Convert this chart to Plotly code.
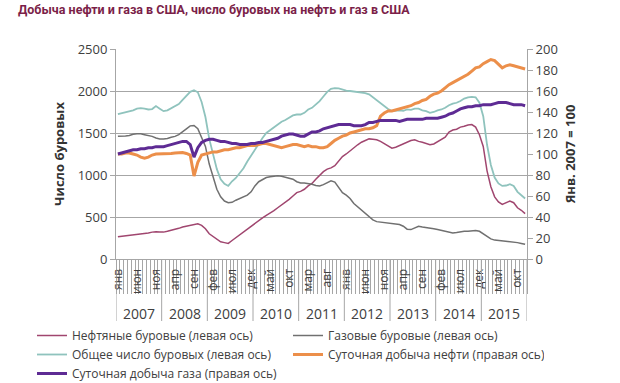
import plotly.graph_objects as go

# ---- data (monthly, Jan 2007 .. Dec 2015) ----
years = [2007, 2008, 2009, 2010, 2011, 2012, 2013, 2014, 2015]
month_names = ["янв", "фев", "мар", "апр", "май", "июн",
               "июл", "авг", "сен", "окт", "ноя", "дек"]
label_step = 5

oil_rigs = [
    265, 270, 275, 280, 285, 295, 300, 305, 310, 320, 325, 320,
    320, 330, 340, 355, 365, 380, 390, 400, 410, 420, 400, 360,
    300, 265, 230, 205, 195, 185, 220, 255, 290, 320, 350, 390,
    430, 460, 490, 520, 545, 575, 610, 640, 670, 710, 750, 790,
    805, 830, 870, 900, 950, 1000, 1040, 1070, 1085, 1110, 1170, 1220,
    1250, 1290, 1330, 1360, 1390, 1410, 1430, 1425, 1420, 1400, 1370, 1340,
    1320, 1330, 1350, 1365, 1385, 1410, 1420, 1400, 1390, 1375, 1360, 1370,
    1400, 1420, 1450, 1510, 1535, 1545, 1570, 1580, 1595, 1600, 1570, 1480,
    1340, 1050, 860, 740, 680, 650, 670, 690, 670, 610, 580, 540]

gas_rigs = [
    1460, 1460, 1465, 1470, 1485, 1490, 1490, 1480, 1470, 1460, 1440, 1430,
    1430, 1435, 1450, 1460, 1480, 1510, 1550, 1585, 1590, 1550, 1450, 1340,
    1130, 980, 830, 740, 690, 670, 675, 700, 720, 740, 760, 800,
    870, 920, 950, 970, 980, 985, 990, 985, 975, 960, 950, 920,
    905, 905, 900, 890, 875, 870, 885, 910, 930, 915, 850, 790,
    760, 720, 660, 620, 580, 540, 500, 465, 445, 440, 430, 430,
    425, 420, 410, 390, 355, 350, 370, 390, 380, 375, 370, 360,
    350, 340, 330, 315, 310, 315, 325, 330, 330, 335, 340, 330,
    300, 270, 240, 225, 220, 215, 215, 210, 205, 195, 185, 175]

total_rigs = [
    1725, 1735, 1745, 1755, 1770, 1790, 1795, 1790, 1780, 1785, 1820, 1790,
    1760, 1770, 1795, 1815, 1845, 1895, 1945, 1990, 2010, 1985, 1870, 1690,
    1430, 1250, 1070, 950, 895, 870, 925, 965, 1020, 1080, 1160, 1230,
    1300, 1380, 1440, 1500, 1535, 1570, 1610, 1635, 1655, 1680, 1710, 1720,
    1720, 1740, 1780, 1800, 1840, 1880, 1935, 1990, 2025, 2035, 2030, 2015,
    2005, 2000, 1995, 1985, 1980, 1975, 1960, 1925, 1890, 1850, 1810, 1785,
    1760, 1765, 1770, 1765, 1780, 1775, 1790, 1790, 1770, 1760, 1740, 1750,
    1770, 1780, 1800, 1830, 1850, 1860, 1880, 1910, 1925, 1930, 1925, 1860,
    1700, 1360, 1120, 970, 900, 870, 875, 890, 870, 800, 760, 720]

oil_prod = [
    100, 100, 101, 101, 100, 99, 97, 96, 97, 99, 100, 100,
    100, 100, 100.5, 101, 101, 101.5, 100.5, 99, 79, 92, 99, 100,
    101, 102, 102, 103, 104, 104, 105, 106, 106, 107, 108, 108,
    108, 109, 110, 110, 109, 108, 107, 106, 107, 108, 109, 109,
    108, 107, 108, 107, 107, 106, 106, 107, 110, 113, 115, 117,
    118, 120, 121, 122, 123, 124, 124, 125, 127, 136, 139, 141,
    141, 142, 143, 144, 145, 146, 148, 149, 151, 152, 155, 157,
    158, 160, 163, 166, 168, 170, 172, 174, 176, 179, 182, 183,
    186, 188, 190, 189, 185, 182, 184, 185, 184, 183, 182, 181]

gas_prod = [
    100, 101, 102, 103, 104, 104, 105, 105, 106, 106, 107, 107,
    107, 108, 109, 110, 111, 112, 112, 109, 97, 106, 111, 113,
    114, 114, 113, 112, 112, 111, 110, 110, 109, 109, 109, 110,
    110, 111, 111, 112, 113, 114, 115, 117, 118, 119, 119, 118,
    117, 117, 119, 121, 121, 122, 124, 125, 126, 127, 128, 128,
    128, 128, 127, 127, 127, 128, 130, 130, 131, 132, 132, 132,
    132, 132, 131, 132, 133, 133, 133, 133, 133, 134, 134, 134,
    134, 135, 136, 138, 139, 141, 143, 144, 145, 145, 146, 146,
    147, 147, 147, 148, 149, 149, 149, 148, 147, 147, 147, 146]

n = len(oil_rigs)
x = list(range(n))

FONT = "Open Sans"
TXT = "#404040"
AX = "#a6a6a6"

fig = go.Figure()
fig.add_trace(go.Scatter(x=x, y=oil_rigs, name="Нефтяные буровые (левая ось)",
                         mode="lines", line=dict(color="#a0466f", width=1.5)))
fig.add_trace(go.Scatter(x=x, y=gas_rigs, name="Газовые буровые (левая ось)",
                         mode="lines", line=dict(color="#707070", width=1.5)))
fig.add_trace(go.Scatter(x=x, y=total_rigs, name="Общее число буровых (левая ось)",
                         mode="lines", line=dict(color="#8fc3bd", width=1.8)))
fig.add_trace(go.Scatter(x=x, y=oil_prod, name="Суточная добыча нефти (правая ось)",
                         mode="lines", line=dict(color="#ec8f4a", width=3), yaxis="y2"))
fig.add_trace(go.Scatter(x=x, y=gas_prod, name="Суточная добыча газа (правая ось)",
                         mode="lines", line=dict(color="#5e2b94", width=3), yaxis="y2"))

tickvals = list(range(0, n, label_step))
ticktext = [month_names[i % 12] for i in tickvals]

shapes = []
annotations = []
for k in range(len(years) + 1):
    shapes.append(dict(type="line", xref="x", yref="paper",
                       x0=12 * k - 0.5, x1=12 * k - 0.5, y0=0, y1=-0.32,
                       line=dict(color=AX, width=1)))
for k, yr in enumerate(years):
    annotations.append(dict(x=12 * k + 5.5, y=-0.26, xref="x", yref="paper",
                            text=str(yr), showarrow=False, yanchor="middle",
                            font=dict(family=FONT, size=14, color=TXT)))

fig.update_layout(
    width=620, height=383,
    margin=dict(l=116, r=93, t=49, b=124, autoexpand=False),
    paper_bgcolor="white", plot_bgcolor="white",
    title=dict(text="Добыча нефти и газа в США, число буровых на нефть и газ в США",
               xref="container", x=18 / 620, xanchor="left",
               yref="container", y=1 - 10 / 383, yanchor="middle",
               font=dict(family="Roboto", size=12.5, color="#7b1f49", weight="bold")),
    xaxis=dict(range=[-0.5, n - 0.5], tickmode="array", tickvals=tickvals,
               ticktext=ticktext, tickangle=-90, ticks="", showgrid=False,
               zeroline=False, showline=True, linecolor=AX, linewidth=1,
               ticklabelstandoff=4, automargin=False,
               tickfont=dict(family=FONT, size=12, color=TXT),
               minor=dict(tickmode="linear", tick0=-0.5, dtick=1, ticks="outside",
                          ticklen=34, tickcolor=AX, tickwidth=1, showgrid=False)),
    yaxis=dict(range=[0, 2500], dtick=500, showgrid=True, gridcolor=AX, gridwidth=1,
               zeroline=False, showline=True, linecolor=AX, ticks="outside",
               ticklen=5, tickcolor=AX, automargin=False,
               tickfont=dict(family=FONT, size=13, color=TXT),
               title=dict(text="Число буровых", standoff=10,
                          font=dict(family=FONT, size=13, color="#333333", weight="bold"))),
    yaxis2=dict(range=[0, 200], dtick=20, overlaying="y", side="right",
                showgrid=False, zeroline=False, showline=True, linecolor=AX,
                ticks="outside", ticklen=5, tickcolor=AX, automargin=False,
                tickfont=dict(family=FONT, size=13, color=TXT),
                title=dict(text="Янв. 2007 = 100", standoff=8,
                           font=dict(family=FONT, size=13, color="#333333", weight="bold"))),
    legend=dict(orientation="h", x=(32 - 116) / 411, xanchor="left",
                y=(259 - 321) / 210, yanchor="top", entrywidth=211, entrywidthmode="pixels",
                itemwidth=30, tracegroupgap=0,
                font=dict(family=FONT, size=12, color=TXT)),
    shapes=shapes, annotations=annotations,
)

fig.write_html("out.html", config={"displayModeBar": False},
               post_script="document.body.style.margin='0px';"
                           "document.body.style.overflow='hidden';")
